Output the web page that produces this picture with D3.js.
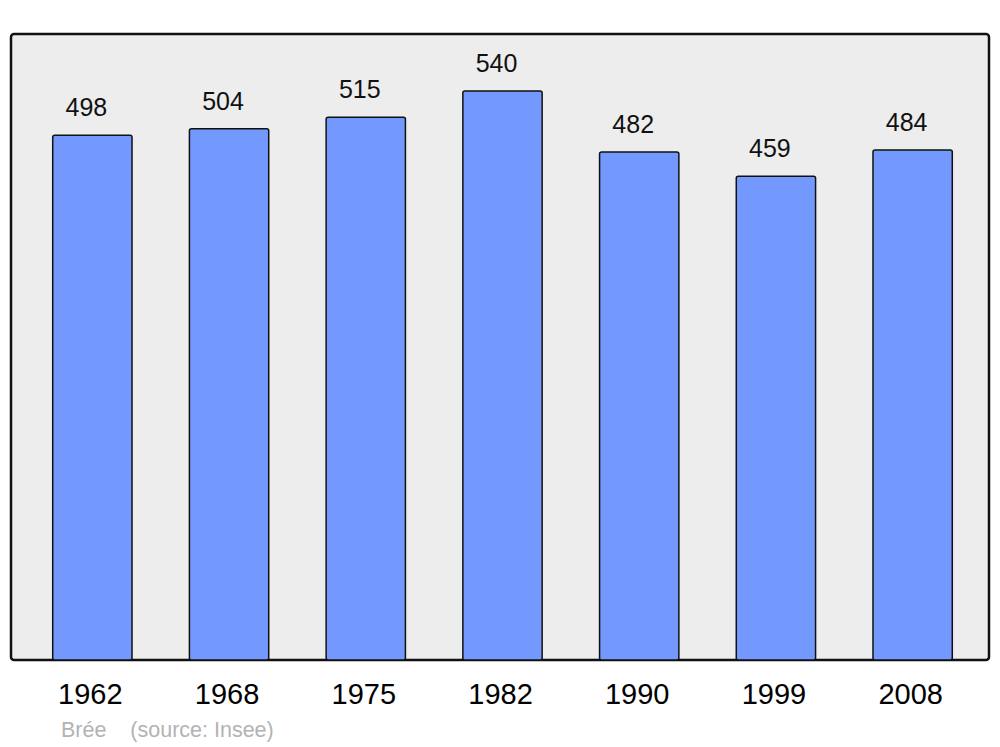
<!DOCTYPE html>
<html>
<head>
<meta charset="utf-8">
<script src="https://cdn.jsdelivr.net/npm/d3@7"></script>
<style>
  body { margin: 0; background: #fff; }
  text { font-family: "Liberation Sans", Arial, sans-serif; }
</style>
</head>
<body>
<svg width="1000" height="747"></svg>
<script>
const years = ["1962", "1968", "1975", "1982", "1990", "1999", "2008"];
const population = [498, 504, 515, 540, 482, 459, 484];
const sourceLabel = "Brée    (source: Insee)";

const svg = d3.select("svg"),
  panel = { left: 11, top: 34, right: 989, bottom: 660 };

const x = d3.scaleBand()
  .domain(years)
  .range([24, 981])
  .paddingInner(0.42)
  .paddingOuter(0.21);

const y = d3.scaleLinear()
  .domain([0, d3.max(population) * 1.1])
  .range([panel.bottom, panel.top]);

svg.append("rect")
  .attr("x", panel.left)
  .attr("y", panel.top)
  .attr("width", panel.right - panel.left)
  .attr("height", panel.bottom - panel.top)
  .attr("rx", 3)
  .attr("fill", "#ededed")
  .attr("stroke", "#111")
  .attr("stroke-width", 2.5);

const data = years.map((yr, i) => ({ year: yr, value: population[i] }));

svg.selectAll(".bar")
  .data(data)
  .enter()
  .append("rect")
  .attr("class", "bar")
  .attr("x", (d) => x(d.year))
  .attr("y", (d) => y(d.value))
  .attr("width", x.bandwidth())
  .attr("height", (d) => y(0) - y(d.value))
  .attr("rx", 2)
  .attr("fill", "#7399ff")
  .attr("stroke", "#111")
  .attr("stroke-width", 1.5);

// value labels sit a little left of the bar centre in the original
svg.selectAll(".val")
  .data(data)
  .enter()
  .append("text")
  .attr("class", "val")
  .attr("x", (d) => x(d.year) + x.bandwidth() / 2 - 6)
  .attr("y", (d) => y(d.value) - 19)
  .attr("text-anchor", "middle")
  .style("font-size", "25px")
  .attr("fill", "#111")
  .text((d) => d.value);

// year labels under the panel
svg.append("g")
  .attr("transform", `translate(-2,${panel.bottom})`)
  .call(d3.axisBottom(x).tickSize(0).tickPadding(23))
  .call((g) => g.select(".domain").remove())
  .selectAll("text")
  .style("font-size", "29px")
  .style("font-family", "'Liberation Sans', Arial, sans-serif")
  .attr("fill", "#000");

svg.append("text")
  .attr("x", 61)
  .attr("y", 737)
  .style("font-size", "21.5px")
  .attr("fill", "#b3b3b3")
  .attr("xml:space", "preserve")
  .style("white-space", "pre")
  .text(sourceLabel);
</script>
</body>
</html>
